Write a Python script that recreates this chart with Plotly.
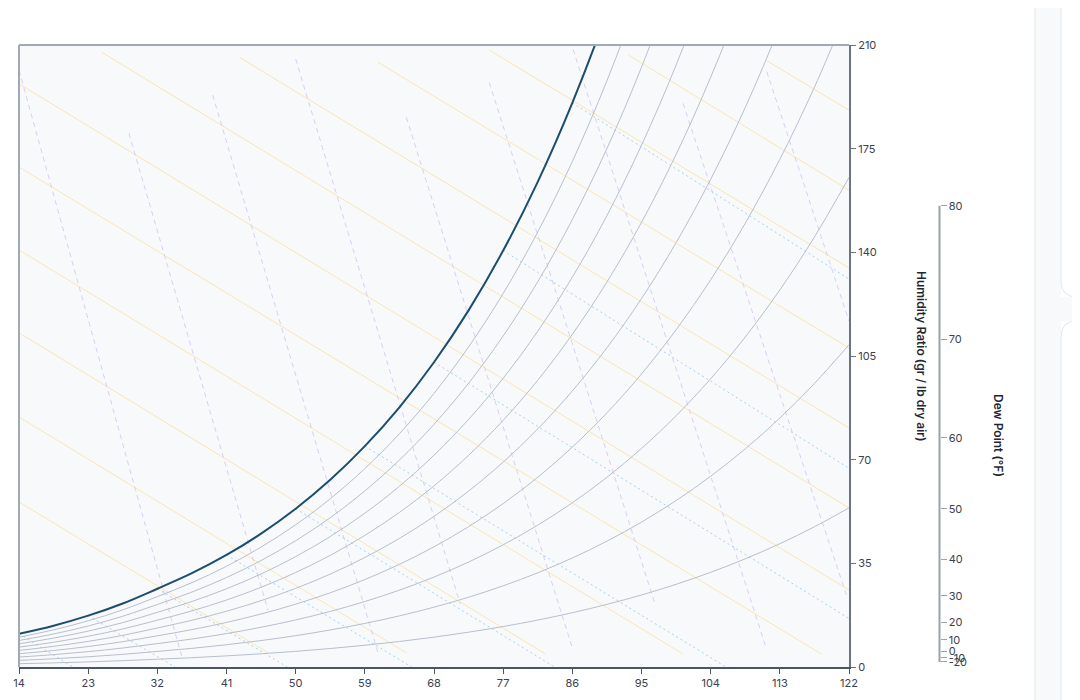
import plotly.graph_objects as go

# saturation curve: dry bulb (°F) and saturation humidity ratio (gr/lb dry air)
DRY_BULB_F = [14, 18.5, 23, 27.5, 32, 36.5, 41, 45.5, 50, 54.5, 59, 63.5, 68,
              72.5, 77, 81.5, 86, 90.5, 95, 99.5, 104, 108.5, 113, 117.5, 122]
SATURATION_GR = [11.20, 13.95, 17.33, 21.44, 26.42, 31.67, 37.82, 45.02, 53.42,
                 63.20, 74.56, 87.69, 102.89, 120.41, 140.60, 163.81, 190.47,
                 221.03, 256.09, 296.24, 342.26, 394.95, 455.40, 524.73, 604.46]
RH_LEVELS = [0.1, 0.2, 0.3, 0.4, 0.5, 0.6, 0.7, 0.8, 0.9]

# enthalpy lines (kJ/kg), start / end points in (°F, gr/lb)
ENTHALPY = [10, 20, 30, 40, 50, 60, 70, 80, 90, 100, 110, 120]
ENTH_T0 = [14, 14, 14, 14, 14, 14, 24.8, 42.7, 60.7, 75.2, 93.3, 111.3]
ENTH_W0 = [55.7, 84.4, 112.8, 140.8, 168.8, 196.9, 207.5, 205.8, 204.2, 208.3, 206.6, 204.7]
ENTH_T1 = [46.4, 64.4, 82.5, 100.4, 118.4, 122, 122, 122, 122, 122, 122, 122]
ENTH_W1 = [4.8, 4.8, 4.4, 4.4, 4.4, 26.0, 53.7, 80.7, 107.7, 134.7, 161.0, 188.0]

# specific volume lines (m3/kg)
VOLUME = [0.78, 0.80, 0.82, 0.84, 0.86, 0.88, 0.90, 0.92, 0.94]
VOL_T0 = [14.0, 28.3, 39.2, 50.0, 64.4, 75.2, 86.1, 100.4, 111.3]
VOL_W0 = [201.5, 180.2, 193.1, 205.3, 185.6, 197.3, 208.5, 190.3, 201.0]
VOL_T1 = [35.3, 46.4, 60.8, 71.4, 86.0, 96.8, 111.1, 121.8, 122.0]
VOL_W1 = [2.4, 19.2, 4.1, 21.3, 6.4, 20.9, 7.4, 23.3, 116.8]

# wet bulb lines (°C), starting on the saturation curve
WET_BULB = [-10, -5, 0, 5, 10, 15, 20, 25, 30]
WB_T0 = [14, 23, 32, 41, 50, 59, 68, 77, 86]
WB_W0 = [11.20, 17.33, 26.42, 37.82, 53.42, 74.56, 102.89, 140.60, 190.47]
WB_T1 = [21.0, 34.3, 48.9, 65.1, 83.7, 106.0, 122, 122, 122]
WB_W1 = [0, 0, 0, 0, 0, 0, 16.4, 67.1, 131.0]

# dew point scale: labels and the humidity ratio they sit at
DEW_POINT_F = [-20, -10, 0, 10, 20, 30, 40, 50, 60, 70, 80]
DEW_POINT_GR = [1.70, 3.09, 5.40, 9.17, 15.0, 24.09, 36.36, 53.42, 77.35, 110.6, 155.7]

X_TICKS = [14, 23, 32, 41, 50, 59, 68, 77, 86, 95, 104, 113, 122]
Y_TICKS = [0, 35, 70, 105, 140, 175, 210]

GR_FACTOR = 4354  # 7000 gr/lb * 0.622


def rh_curve(phi):
    out = []
    for ws in SATURATION_GR:
        r = ws / (GR_FACTOR + ws)
        out.append(GR_FACTOR * phi * r / (1 - phi * r))
    return out


# page geometry: the page body adds an 8px offset, helpers take window pixels
PAGE_W, PAGE_H, BODY = 1080, 700, 8
W, H = PAGE_W - BODY, PAGE_H - BODY
PLOT_L, PLOT_R, PLOT_T, PLOT_B = 19, 849, 45, 667
M_L, M_R, M_T, M_B = PLOT_L - BODY, 0, PLOT_T - BODY, PAGE_H - PLOT_B
AREA_W = W - M_L - M_R
AREA_H = H - M_T - M_B


def px(x):
    return (x - PLOT_L) / AREA_W


def py(y):
    return (PLOT_B - y) / AREA_H


fig = go.Figure()

for h, t0, w0, t1, w1 in zip(ENTHALPY, ENTH_T0, ENTH_W0, ENTH_T1, ENTH_W1):
    fig.add_trace(go.Scatter(x=[t0, t1], y=[w0, w1], mode='lines', name=f'h {h}',
                             line=dict(color='#fbe6b3', width=1), hoverinfo='skip'))

for v, t0, w0, t1, w1 in zip(VOLUME, VOL_T0, VOL_W0, VOL_T1, VOL_W1):
    fig.add_trace(go.Scatter(x=[t0, t1], y=[w0, w1], mode='lines', name=f'v {v}',
                             line=dict(color='#dccdf7', width=1, dash='5px,4px'), hoverinfo='skip'))

for wb, t0, w0, t1, w1 in zip(WET_BULB, WB_T0, WB_W0, WB_T1, WB_W1):
    fig.add_trace(go.Scatter(x=[t0, t1], y=[w0, w1], mode='lines', name=f'wb {wb}',
                             line=dict(color='#a6d3e8', width=1, dash='2px,3px'), hoverinfo='skip'))

for phi in RH_LEVELS:
    fig.add_trace(go.Scatter(x=DRY_BULB_F, y=rh_curve(phi), mode='lines', name=f'{int(phi * 100)}% RH',
                             line=dict(color='#b7bfcd', width=1, shape='spline'), hoverinfo='skip'))

fig.add_trace(go.Scatter(x=DRY_BULB_F, y=SATURATION_GR, mode='lines', name='Saturation',
                         line=dict(color='#1d4d6c', width=2, shape='spline'), hoverinfo='skip'))

# invisible helper so the dew point axis gets drawn
fig.add_trace(go.Scatter(x=[DRY_BULB_F[0]] * len(DEW_POINT_GR), y=DEW_POINT_GR, yaxis='y2',
                         mode='markers', marker=dict(opacity=0), hoverinfo='skip', showlegend=False))

axis_font = dict(family='Inter, Roboto, sans-serif', size=11, color='#3a4150')
title_font = dict(family='Inter, Roboto, sans-serif', size=12, color='#1f2633', weight=600)

fig.update_layout(
    width=W, height=H,
    margin=dict(l=M_L, r=M_R, t=M_T, b=M_B, autoexpand=False),
    paper_bgcolor='white',
    plot_bgcolor='#f8f9fb',
    showlegend=False,
    font=axis_font,
    xaxis=dict(domain=[0, px(PLOT_R)], range=[14, 122], tickvals=X_TICKS, ticks='outside',
               ticklen=5, tickcolor='#4b5568', showline=True, linecolor='#4b5568', linewidth=2,
               showgrid=False, zeroline=False, tickfont=axis_font),
    yaxis=dict(range=[0, 210], side='right', tickvals=Y_TICKS, ticks='outside', ticklen=5,
               tickcolor='#6b7385', showline=True, linecolor='#6b7385', linewidth=2,
               showgrid=False, zeroline=False, tickfont=axis_font),
    yaxis2=dict(overlaying='y', anchor='free', position=px(939.5), side='right', range=[0, 210],
                tickvals=DEW_POINT_GR, ticktext=[str(d) for d in DEW_POINT_F], ticks='outside',
                ticklen=6, tickcolor='#9aa1ad', showline=False, showgrid=False, zeroline=False,
                tickfont=axis_font),
)

shapes = [
    # left and top frame of the plot area
    dict(type='line', xref='paper', yref='paper', x0=0, x1=0, y0=0, y1=1,
         line=dict(color='#a2a9b6', width=2)),
    dict(type='line', xref='paper', yref='paper', x0=0, x1=px(PLOT_R), y0=1, y1=1,
         line=dict(color='#a2a9b6', width=2)),
    # dew point axis line
    dict(type='line', xref='paper', yref='y2', x0=px(939.5), x1=px(939.5),
         y0=DEW_POINT_GR[0], y1=DEW_POINT_GR[-1], line=dict(color='#9aa1ad', width=2)),
    # side panel of the page
    dict(type='rect', xref='paper', yref='paper', x0=px(1035), x1=px(1061), y0=py(PAGE_H), y1=py(0),
         fillcolor='#f8f9fb', line=dict(width=0), layer='below'),
    dict(type='rect', xref='paper', yref='paper', x0=px(1061), x1=px(PAGE_W), y0=py(321), y1=py(297),
         fillcolor='#f8f9fb', line=dict(width=0), layer='below'),
    dict(type='line', xref='paper', yref='paper', x0=px(1035), x1=px(1035), y0=py(PAGE_H), y1=py(0),
         line=dict(color='#e3e6eb', width=1)),
    dict(type='path', xref='paper', yref='paper',
         path=f'M {px(1061)},{py(0)} L {px(1061)},{py(281)} Q {px(1061)},{py(297)} {px(1077)},{py(297)} L {px(PAGE_W)},{py(297)}',
         line=dict(color='#e3e6eb', width=1)),
    dict(type='path', xref='paper', yref='paper',
         path=f'M {px(PAGE_W)},{py(321)} L {px(1077)},{py(321)} Q {px(1061)},{py(321)} {px(1061)},{py(337)} L {px(1061)},{py(PAGE_H)}',
         line=dict(color='#e3e6eb', width=1)),
]
fig.update_layout(shapes=shapes)

fig.add_annotation(x=px(922), y=py(356), xref='paper', yref='paper', xanchor='center', yanchor='middle',
                   text='Humidity Ratio (gr / lb dry air)', textangle=90, showarrow=False, font=title_font)
fig.add_annotation(x=px(998), y=py(435), xref='paper', yref='paper', xanchor='center', yanchor='middle',
                   text='Dew Point (°F)', textangle=90, showarrow=False, font=title_font)
fig.add_annotation(x=px(434), y=py(697), xref='paper', yref='paper', xanchor='center', yanchor='top',
                   text='Dry Bulb Temperature (°F)', showarrow=False, font=title_font)

fig.write_html("out.html")
